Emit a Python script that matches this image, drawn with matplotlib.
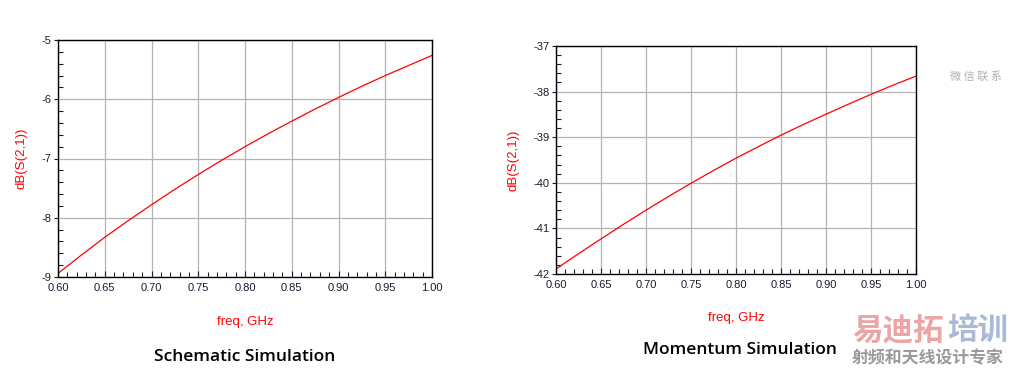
import numpy as np
import matplotlib
matplotlib.use("Agg")
import matplotlib.pyplot as plt
from matplotlib.ticker import MultipleLocator, FormatStrFormatter

# frequency points (GHz)
freq = [0.600, 0.625, 0.650, 0.675, 0.700, 0.725, 0.750, 0.775, 0.800,
        0.825, 0.850, 0.875, 0.900, 0.925, 0.950, 0.975, 1.000]
# dB(S(2,1))
s21_schematic = [-8.94, -8.63, -8.33, -8.05, -7.78, -7.52, -7.27, -7.03, -6.80,
                 -6.58, -6.37, -6.165, -5.97, -5.78, -5.60, -5.43, -5.26]
s21_momentum = [-41.89, -41.555, -41.23, -40.91, -40.60, -40.30, -40.01, -39.73, -39.46,
                -39.205, -38.955, -38.72, -38.495, -38.275, -38.06, -37.855, -37.66]

titles = ["Schematic Simulation", "Momentum Simulation"]
ylims = [(-9, -5), (-42, -37)]

W, H = 1012, 374
fig = plt.figure(figsize=(W / 100, H / 100), dpi=100)

# axes boxes in pixels: left, top, right, bottom
boxes = [(58, 40, 432, 277), (556, 46, 916, 274)]
xlabel_pads = [17, 16]
sans = ["Liberation Sans", "DejaVu Sans"]


def style_axes(ax, ylim, xpad):
    ax.set_xlim(0.60, 1.00)
    ax.set_ylim(*ylim)
    ax.xaxis.set_major_locator(MultipleLocator(0.05))
    ax.xaxis.set_minor_locator(MultipleLocator(0.01))
    ax.yaxis.set_major_locator(MultipleLocator(1))
    ax.yaxis.set_minor_locator(MultipleLocator(0.2))
    ax.xaxis.set_major_formatter(FormatStrFormatter("%.2f"))
    ax.yaxis.set_major_formatter(FormatStrFormatter("%d"))
    ax.grid(True, which="major", color="#b4b4b4", linewidth=0.9)
    ax.tick_params(which="major", direction="out", length=3, width=0.8,
                   labelsize=8, colors="#1a1a33", pad=1.5)
    ax.tick_params(which="minor", direction="in", length=3.5, width=0.8,
                   color="#1a1a33")
    ax.tick_params(axis="x", which="major", direction="in", length=4, pad=4)
    for lab in ax.get_xticklabels() + ax.get_yticklabels():
        lab.set_family(sans)
    for sp in ax.spines.values():
        sp.set_color("black")
        sp.set_linewidth(1.0)
    ax.set_xlabel("freq, GHz", color="red", fontsize=9.5, labelpad=xpad, family=sans)
    ax.set_ylabel("dB(S(2,1))", color="red", fontsize=9.5, labelpad=10, family=sans)


for i, (data, title) in enumerate(zip([s21_schematic, s21_momentum], titles)):
    l, t, r, b = boxes[i]
    ax = fig.add_axes([l / W, 1 - b / H, (r - l) / W, (b - t) / H])
    ax.plot(freq, data, color="red", linewidth=0.9)
    style_axes(ax, ylims[i], xlabel_pads[i])

fig.text(245 / W, 1 - 357 / H, titles[0], ha="center", va="center",
         fontsize=12.5, family="Open Sans", weight="semibold", color="black")
fig.text(740 / W, 1 - 350 / H, titles[1], ha="center", va="center",
         fontsize=12.5, family="Open Sans", weight="semibold", color="black")

# watermark text
cjk = ["Noto Sans CJK SC", "DejaVu Sans"]
fig.text(852 / W, 1 - 331 / H, "易迪拓", ha="left", va="center", fontsize=22,
         family=cjk, weight="bold", color="#eba5a5")
fig.text(1008 / W, 1 - 331 / H, "培训", ha="right", va="center", fontsize=22,
         family=cjk, weight="bold", color="#a9b9d6")
fig.text(852 / W, 1 - 358 / H, "射频和天线设计专家", ha="left", va="center",
         fontsize=12.2, family=cjk, weight="bold", color="#9a9a9a")
fig.text(976 / W, 1 - 77 / H, "微 信 联 系", ha="center", va="center",
         fontsize=8, family=cjk, color="#b0b0b0")

fig.savefig("out.png", dpi=100)
